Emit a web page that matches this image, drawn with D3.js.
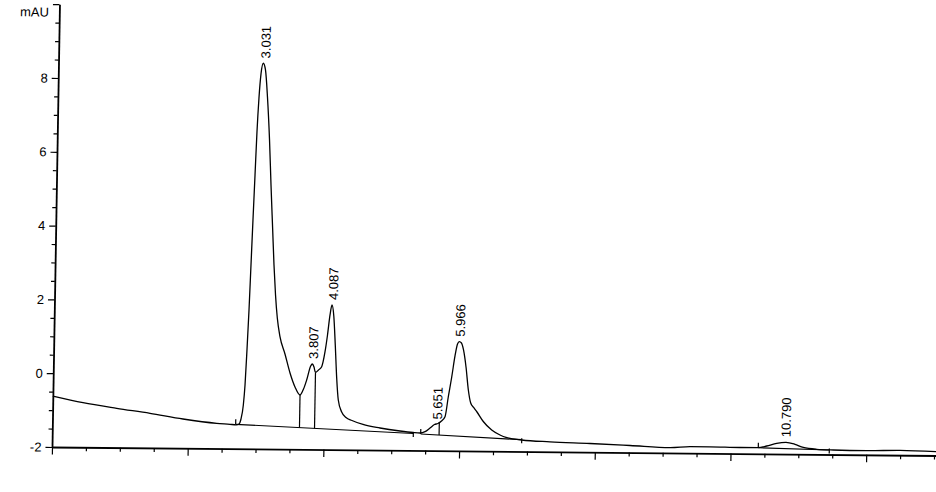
<!DOCTYPE html>
<html><head><meta charset="utf-8">
<script src="https://cdn.jsdelivr.net/npm/d3@7"></script>
<style>html,body{margin:0;padding:0;background:#fff;} svg{display:block;}</style>
</head><body>
<svg id="chart" width="936" height="492"></svg>
<script>
// ---- data (time in min, absorbance in mAU) ----
const signalTime = [0, 0.446, 0.944, 1.436, 1.923, 2.421, 2.617, 2.706, 2.750, 2.778,
  2.809, 2.829, 2.849, 2.869, 2.887, 2.905, 2.924, 2.942, 2.963, 2.987,
  3.018, 3.052, 3.088, 3.129, 3.162, 3.198, 3.226, 3.256, 3.288, 3.332,
  3.410, 3.489, 3.566, 3.642, 3.692, 3.736, 3.792, 3.815, 3.841, 3.864,
  3.908, 3.954, 3.999, 4.032, 4.064, 4.091, 4.120, 4.149, 4.178, 4.207,
  4.260, 4.325, 4.414, 4.577, 4.829, 5.124, 5.316, 5.419, 5.493, 5.566,
  5.631, 5.682, 5.733, 5.784, 5.827, 5.873, 5.916, 5.950, 5.976, 6.008,
  6.040, 6.081, 6.121, 6.159, 6.209, 6.254, 6.349, 6.475, 6.599, 6.688,
  6.920, 7.337, 7.927, 8.517, 9.107, 9.401, 9.696, 10.138, 10.404, 10.532,
  10.678, 10.815, 10.948, 11.071, 11.269, 11.514, 12.006, 12.497, 13.038];
const signalValue = [-0.62, -0.79, -0.934, -1.061, -1.207, -1.315, -1.338, -1.35, -1.328, -1.192,
  -0.812, -0.27, 0.679, 1.764, 2.984, 4.204, 5.424, 6.59, 7.512, 8.163,
  8.453, 8.272, 7.541, 6.376, 5.157, 3.938, 2.99, 2.178, 1.554, 1.049,
  0.581, 0.067, -0.311, -0.526, -0.363, -0.118, 0.262, 0.317, 0.236, 0.088,
  0.156, 0.246, 0.646, 1.107, 1.65, 1.92, 1.624, 0.838, -0.056, -0.652,
  -0.976, -1.124, -1.204, -1.309, -1.40, -1.476, -1.513, -1.525, -1.488, -1.387,
  -1.291, -1.263, -1.194, -1.077, -0.542, 0.001, 0.571, 0.897, 0.96, 0.925,
  0.736, 0.276, -0.347, -0.699, -0.833, -0.941, -1.197, -1.425, -1.558, -1.624,
  -1.688, -1.73, -1.765, -1.809, -1.858, -1.826, -1.823, -1.835, -1.835, -1.787,
  -1.711, -1.682, -1.734, -1.818, -1.863, -1.878, -1.888, -1.869, -1.897];

const peakTimes  = [3.031, 3.807, 4.087, 5.651, 5.966, 10.790];
const peakLabels = ["3.031", "3.807", "4.087", "5.651", "5.966", "10.790"];
const peakApex   = [8.45, 0.32, 1.92, -1.29, 0.96, -1.68];

const baseStartTime  = [2.701, 5.430, 10.408];
const baseStartValue = [-1.337, -1.552, -1.835];
const baseEndTime    = [5.321, 6.920, 11.455];
const baseEndValue   = [-1.540, -1.680, -1.879];

const dropTime    = [3.642, 3.864, 5.701];
const dropTop     = [-0.526, 0.088, -1.222];
const dropSegment = [0, 0, 1];

const yMajorTicks = [-2, 0, 2, 4, 6, 8, 10];
const yTickLabels = ["-2", "0", "2", "4", "6", "8", ""];
const yUnit = "mAU";
const xMajorTicks = [0, 2, 4, 6, 8, 10, 12];

// ---- layout ----
const X0 = 52, Y0 = 447;
const x = d3.scaleLinear().domain([0, 13.2]).range([X0, X0 + 13.2 * 67.85]);
const y = d3.scaleLinear().domain([-2, 10]).range([Y0, Y0 - 12 * 36.9]);
const FONT = "'Liberation Sans', Arial, Helvetica, sans-serif";

const svg = d3.select("#chart");
const g = svg.append("g")
  .attr("transform", `translate(${X0},${Y0}) matrix(1,0.0096,-0.0169,1,0,0) translate(${-X0},${-Y0})`);

// y axis minor
const yMinor = d3.range(-2, 10.001, 0.5).filter(v => !yMajorTicks.includes(v));
g.append("g").attr("transform", `translate(${X0},0)`)
  .call(d3.axisLeft(y).tickValues(yMinor).tickSize(3.8).tickFormat(""))
  .call(a => a.select(".domain").remove())
  .selectAll("line").attr("stroke", "#000").attr("stroke-width", 1.2);
// y axis major
const yAx = g.append("g").attr("transform", `translate(${X0},0)`)
  .call(d3.axisLeft(y).tickValues(yMajorTicks).tickSize(6.5).tickSizeOuter(0).tickPadding(4)
    .tickFormat((d, i) => yTickLabels[i]));
yAx.select(".domain").attr("stroke", "#000").attr("stroke-width", 1.8);
yAx.selectAll("line").attr("stroke", "#000").attr("stroke-width", 1.2);
yAx.selectAll("text").attr("font-family", FONT).attr("font-size", 13).attr("fill", "#000");
g.append("text").attr("x", X0 - 10.5).attr("y", y(10) + 8).attr("dy", "0.35em")
  .attr("text-anchor", "end").attr("font-family", FONT).attr("font-size", 13).text(yUnit);

// x axis minor
const xMinor = d3.range(0, 13.2, 0.5).filter(v => !xMajorTicks.includes(v));
g.append("g").attr("transform", `translate(0,${Y0})`)
  .call(d3.axisBottom(x).tickValues(xMinor).tickSize(4).tickFormat(""))
  .call(a => a.select(".domain").remove())
  .selectAll("line").attr("stroke", "#000").attr("stroke-width", 1.2);
const xAx = g.append("g").attr("transform", `translate(0,${Y0})`)
  .call(d3.axisBottom(x).tickValues(xMajorTicks).tickSize(7.5).tickSizeOuter(0).tickFormat(""));
xAx.select(".domain").attr("stroke", "#000").attr("stroke-width", 1.8);
xAx.selectAll("line").attr("stroke", "#000").attr("stroke-width", 1.2);

// baselines
const segs = baseStartTime.map((t, i) => ({t0: t, v0: baseStartValue[i], t1: baseEndTime[i], v1: baseEndValue[i]}));
g.selectAll(".base").data(segs).join("line").attr("class", "base")
  .attr("x1", d => x(d.t0)).attr("y1", d => y(d.v0))
  .attr("x2", d => x(d.t1)).attr("y2", d => y(d.v1))
  .attr("stroke", "#000").attr("stroke-width", 1.2);
g.selectAll(".bs").data(segs).join("line").attr("class", "bs")
  .attr("x1", d => x(d.t0)).attr("x2", d => x(d.t0))
  .attr("y1", d => y(d.v0)).attr("y2", d => y(d.v0) - 5)
  .attr("stroke", "#000").attr("stroke-width", 1.2);
g.selectAll(".be").data(segs).join("line").attr("class", "be")
  .attr("x1", d => x(d.t1)).attr("x2", d => x(d.t1))
  .attr("y1", d => y(d.v1) - 1.5).attr("y2", d => y(d.v1) + 3.5)
  .attr("stroke", "#000").attr("stroke-width", 1.2);

// drop lines
const drops = dropTime.map((t, i) => {
  const s = segs[dropSegment[i]];
  const vb = s.v0 + (t - s.t0) / (s.t1 - s.t0) * (s.v1 - s.v0);
  return {t, top: dropTop[i], bottom: vb};
});
g.selectAll(".drop").data(drops).join("line").attr("class", "drop")
  .attr("x1", d => x(d.t)).attr("x2", d => x(d.t))
  .attr("y1", d => y(d.top)).attr("y2", d => y(d.bottom))
  .attr("stroke", "#000").attr("stroke-width", 1.2);

// signal
const pts = signalTime.map((t, i) => [t, signalValue[i]]);
g.append("path").datum(pts)
  .attr("d", d3.line().x(d => x(d[0])).y(d => y(d[1])).curve(d3.curveMonotoneX))
  .attr("fill", "none").attr("stroke", "#000").attr("stroke-width", 1.3);

// peak labels
g.selectAll(".pl").data(peakTimes).join("text").attr("class", "pl")
  .attr("transform", (d, i) => `translate(${x(d) + 1.5},${y(peakApex[i]) - 5}) rotate(-90)`)
  .attr("dy", "0.35em").attr("text-anchor", "start")
  .attr("font-family", FONT).attr("font-size", 13).attr("fill", "#000")
  .text((d, i) => peakLabels[i]);
</script>
</body></html>
